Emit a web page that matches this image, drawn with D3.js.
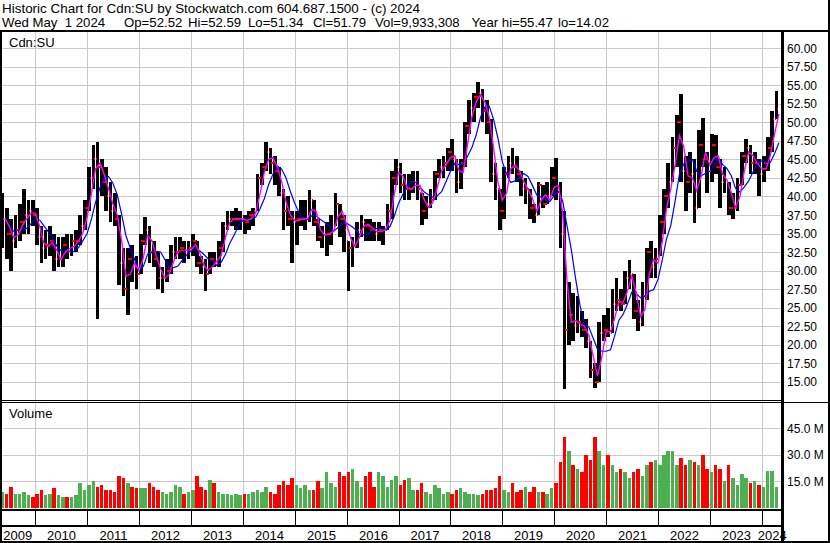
<!DOCTYPE html>
<html>
<head>
<meta charset="utf-8">
<script src="https://cdn.jsdelivr.net/npm/d3@7/dist/d3.min.js"></script>
<style>
  body { margin: 0; background: #fff; }
  svg { display: block; font-family: Arial, "Liberation Sans", sans-serif; }
  .hdr { white-space: pre; }
</style>
</head>
<body>
<div id="chart"></div>
<script>
'use strict';

// monthly bars, first one is May 2009, last one is Apr 2024 (prices in C$)
var firstYear = 2009, firstMonth = 4;

var hi = [
  40.5, 38.5, 37, 37.5, 39, 41, 39.5, 39.5,
  38.5, 36, 35.5, 36, 35, 34.5, 34.5, 35, 35, 35.5, 37.5, 39.5,
  44, 47, 47.3, 45, 44, 42, 40.5, 37.5, 33, 33, 33.5, 32,
  35, 37.2, 36, 34, 32.5, 30.5, 31.5, 33.5, 34.5, 34.5, 34, 34,
  35, 34, 32, 31.5, 32.5, 32.5, 34, 36.5, 38, 38, 38.5, 38,
  37.5, 38, 38.5, 43, 44.5, 47.3, 46.5, 45.5, 44, 41, 40, 38,
  38, 39.5, 39.5, 40.9, 39.5, 37, 36, 36.5, 37.5, 40.5, 39, 37.5,
  34, 34.5, 36.5, 37.5, 37, 37, 36.5, 36.5, 36, 39, 43.5, 45,
  44.5, 43, 43, 43.5, 43.5, 40.5, 40, 41, 43.5, 45, 45.5, 46.5,
  47.7, 45, 45, 50, 53, 54, 55.4, 54.5, 53, 50.5, 44.5, 41,
  44, 45.5, 46.6, 45.5, 43.5, 42.5, 41, 39, 42, 41.5, 42, 44,
  45.2, 42, 38, 28.5, 27, 26.5, 24.5, 23.5, 20.5, 17.5, 23, 24,
  25, 27.5, 29, 27.5, 30, 31.4, 29.5, 26, 28.5, 33, 34, 33,
  37.5, 41, 44.5, 48, 51, 53.8, 45.5, 46, 45, 49, 50.6, 46,
  48.5, 48.3, 45, 44, 42, 40.5, 42.5, 46, 47.7, 47, 46, 45,
  45.5, 48, 51.5, 54.2
];

var lo = [
  33, 31.5, 30, 33, 34, 35, 35, 36,
  33.5, 31, 31.5, 32, 30, 30.5, 30.5, 31.5, 32, 32.5, 33.5, 35.5,
  38, 41, 23.5, 40, 38, 36.5, 36, 28, 26.5, 24, 28.5, 27.5,
  29.5, 33.5, 31, 30.5, 27.5, 27, 28.5, 29.5, 31.5, 31.5, 31, 31.5,
  32, 30.5, 29.5, 27.3, 29.5, 30.5, 30.5, 32.5, 35.5, 36, 35.5, 35.5,
  35, 35.5, 36, 38, 41.5, 43.5, 43, 41.5, 40, 35.5, 36, 31,
  33.5, 36, 35.5, 36.5, 36, 34, 33, 32, 33.5, 36, 34.5, 32.5,
  27.3, 30.5, 33, 34.5, 34, 34, 34, 34, 33.5, 35.5, 37, 41.5,
  40.5, 39.5, 39.5, 40.5, 39.5, 36.1, 37, 38.5, 39.5, 42.5, 42.5, 43.5,
  43.5, 40.5, 41, 44, 48.5, 50, 52, 50, 48.5, 42, 39.5, 35.5,
  37, 42.5, 43, 42, 40, 39, 37, 36.4, 37.5, 38.5, 39, 40,
  39.5, 33, 14, 20, 20.5, 21.5, 21, 19.5, 15.5, 14.2, 15, 20.5,
  21, 21.5, 24.5, 24.5, 25.5, 27.5, 23.5, 21.9, 22.5, 26, 29, 29,
  32, 35, 38.5, 42, 44, 42, 38, 40.5, 36.4, 38.5, 44, 40.5,
  42, 43, 38.5, 40.5, 37.5, 37, 38, 41.5, 44.5, 43, 43, 40,
  42, 43.5, 46, 50.5
];

var cl = [
  37, 35, 34, 35.5, 36.5, 37.5, 38, 37.5,
  34.5, 33, 33.5, 34, 31.5, 31.5, 33.5, 32.5, 34, 34, 36, 38.5,
  42.5, 45, 44, 42, 40, 38, 37, 31, 27.5, 31.5, 30.5, 29.5,
  34, 35.5, 32.5, 31.5, 29, 29, 30, 32.5, 32.5, 33, 32.5, 33,
  34, 31, 30.5, 29.5, 31.5, 31, 33, 36, 37, 37, 37, 37,
  36.5, 37.5, 38, 42.5, 44, 46, 44.5, 43.5, 40.5, 38, 37, 36.5,
  37, 37, 37, 39.5, 36.5, 34.5, 35, 35, 35.5, 39, 37, 35.5,
  33, 33.5, 35.5, 36.5, 36, 35.5, 35, 35.5, 35.5, 38, 42.5, 44,
  41.5, 41, 41, 42, 41, 38, 39, 39.5, 43, 44, 44.5, 46,
  45, 42, 44.5, 49.5, 52, 53.5, 54, 51.5, 50, 43, 41, 38,
  43, 44.5, 44, 43, 41, 41, 38.5, 37.5, 41.5, 39, 40, 42.5,
  40.5, 35, 22, 24, 22.5, 23, 22, 20.5, 16.5, 15, 21.5, 22,
  21.5, 25.5, 26, 25.5, 29, 29.5, 24.5, 23, 26.5, 32.5, 30.5, 31.5,
  36.5, 40, 42, 46.5, 50, 43.5, 42, 43, 38.5, 47, 45, 43.5,
  47, 44, 42, 42.5, 38.5, 38.5, 41.5, 45.5, 46.5, 44.5, 44.5, 43,
  44.5, 46.5, 50.5, 51.79
];

var firstOpen = 36.5;

// weekly volume level for each month, millions of shares
var vol = [
  9, 8, 12, 8, 8, 9, 7, 6,
  8, 10, 7, 8, 11, 7, 6, 6, 6, 7, 14, 10,
  13, 15, 12, 13, 10, 10, 9, 18, 17, 14, 12, 11,
  11, 11, 14, 12, 10, 9, 8, 9, 13, 12, 8, 9,
  10, 18, 12, 10, 16, 14, 9, 8, 8, 7, 8, 7,
  8, 8, 9, 10, 9, 12, 9, 8, 13, 15, 13, 17,
  13, 11, 13, 10, 10, 15, 11, 20, 14, 12, 20, 18,
  20, 22, 15, 12, 18, 20, 12, 20, 18, 12, 16, 18,
  13, 16, 17, 10, 10, 14, 9, 8, 13, 11, 8, 9,
  8, 10, 11, 9, 8, 8, 7, 8, 10, 10, 11, 18,
  10, 9, 14, 9, 10, 12, 9, 12, 9, 9, 8, 11,
  14, 26, 40, 32, 24, 22, 20, 30, 27, 40, 32, 24,
  30, 24, 20, 22, 20, 17, 20, 22, 18, 24, 26, 27,
  24, 30, 32, 32, 24, 28, 24, 27, 26, 24, 30, 22,
  20, 24, 22, 15, 24, 17, 13, 19, 17, 14, 15, 13,
  12, 21, 21, 12
];

var priceTicks = [15, 17.5, 20, 22.5, 25, 27.5, 30, 32.5, 35, 37.5, 40, 42.5, 45, 47.5, 50, 52.5, 55, 57.5, 60];
var volumeTicks = [15, 30, 45];
var years = [2009, 2010, 2011, 2012, 2013, 2014, 2015, 2016, 2017, 2018, 2019, 2020, 2021, 2022, 2023, 2024];

var headerLine1 = 'Historic Chart for Cdn:SU by Stockwatch.com 604.687.1500 - (c) 2024';
var headerFields = ['Wed May  1 2024', 'Op=52.52', 'Hi=52.59', 'Lo=51.34', 'Cl=51.79', 'Vol=9,933,308', 'Year hi=55.47', 'lo=14.02'];
var headerFieldX = [2, 124, 188, 248, 313, 375, 471.5, 558];
var symbol = 'Cdn:SU';

var fastPeriod = 2;   // months
var slowPeriod = 5;

var width = 830, height = 543;
var plotRight = 782;
var priceTop = 31;
var volBottom = 509;
var gridColor = '#c8c8c8';
var upColor = '#4caf50', downColor = '#ff0000';

var data = hi.map(function(h, i) {
  return {
    date: new Date(firstYear, firstMonth + i, 1),
    end: new Date(firstYear, firstMonth + i + 1, 1),
    high: h,
    low: lo[i],
    close: cl[i],
    open: i === 0 ? firstOpen : cl[i - 1],
    volume: vol[i]
  };
});

var movingAverage = function(n) {
  return data.map(function(d, i) {
    return { date: d.end, value: d3.mean(data.slice(Math.max(0, i - n + 1), i + 1), function(e) { return e.close; }) };
  });
};

var x = d3.scaleTime().domain([new Date(2010, 0, 1), new Date(2024, 0, 1)]).range([35.3, 761.7]);
var y = d3.scaleLinear().domain([15, 60]).range([381.6, 48.4]);
var yv = d3.scaleLinear().domain([0, 45]).range([507.8, 428.3]);

var svg = d3.select('#chart').append('svg')
  .attr('width', width)
  .attr('height', height);

svg.append('rect').attr('width', width).attr('height', height).attr('fill', '#fff');

// header
svg.append('text').attr('class', 'hdr').attr('x', 2).attr('y', 13.3)
  .attr('textLength', 418).attr('lengthAdjust', 'spacingAndGlyphs')
  .style('font-size', '13.4px').text(headerLine1);

svg.selectAll('.hfield').data(headerFields).enter().append('text')
  .attr('class', 'hdr')
  .attr('x', function(d, i) { return headerFieldX[i]; })
  .attr('y', 27)
  .style('font-size', '13.2px')
  .text(function(d) { return d; });

var grid = svg.append('g').attr('shape-rendering', 'crispEdges');

// horizontal grid
grid.selectAll('.pgrid').data(priceTicks).enter().append('line')
  .attr('x1', 0).attr('x2', plotRight)
  .attr('y1', function(d) { return Math.round(y(d)) + 0.5; })
  .attr('y2', function(d) { return Math.round(y(d)) + 0.5; })
  .attr('stroke', gridColor);

grid.selectAll('.vgrid').data(volumeTicks).enter().append('line')
  .attr('x1', 0).attr('x2', plotRight)
  .attr('y1', function(d) { return Math.round(yv(d)) + 0.5; })
  .attr('y2', function(d) { return Math.round(yv(d)) + 0.5; })
  .attr('stroke', gridColor);

// year grid
var yearLines = years.slice(1).map(function(yr) { return Math.round(x(new Date(yr, 0, 1))) + 0.5; });

grid.selectAll('.ygrid').data(yearLines).enter().append('line')
  .attr('x1', function(d) { return d; }).attr('x2', function(d) { return d; })
  .attr('y1', priceTop).attr('y2', volBottom)
  .attr('stroke', gridColor);

// price bars, one per month
var bars = svg.append('g').attr('shape-rendering', 'crispEdges');

bars.selectAll('.bar').data(data).enter().append('rect')
  .attr('x', function(d) { return x(d.date); })
  .attr('width', function(d) { return x(d.end) - x(d.date) - 0.6; })
  .attr('y', function(d) { return y(d.high); })
  .attr('height', function(d) { return Math.max(1, y(d.low) - y(d.high)); })
  .attr('fill', '#000');

bars.selectAll('.cls').data(data).enter().append('rect')
  .attr('x', function(d) { return x(d.end) - 2; })
  .attr('width', 1.6)
  .attr('y', function(d) { return y(d.close) - 1; })
  .attr('height', 2)
  .attr('fill', '#ff0000');

bars.selectAll('.opn').data(data).enter().append('rect')
  .attr('x', function(d) { return x(d.date); })
  .attr('width', 1.4)
  .attr('y', function(d) { return y(Math.min(d.high, Math.max(d.low, d.open))) - 1; })
  .attr('height', 2)
  .attr('fill', '#ff0000');

// moving averages
var line = d3.line()
  .x(function(d) { return x(d.date); })
  .y(function(d) { return y(d.value); });

svg.append('path').datum(movingAverage(slowPeriod))
  .attr('d', line).attr('fill', 'none').attr('stroke', '#0000ff').attr('stroke-width', 1.2);

svg.append('path').datum(movingAverage(fastPeriod))
  .attr('d', line).attr('fill', 'none').attr('stroke', '#ff00ff').attr('stroke-width', 1.4);

// volume bars
svg.append('g').attr('shape-rendering', 'crispEdges')
  .selectAll('rect').data(data).enter().append('rect')
  .attr('x', function(d) { return x(d.date); })
  .attr('width', function(d) { return x(d.end) - x(d.date) - 0.8; })
  .attr('y', function(d) { return yv(d.volume); })
  .attr('height', function(d) { return yv(0) - yv(d.volume); })
  .attr('fill', function(d) { return d.close >= d.open ? upColor : downColor; });

// frame lines
var frame = svg.append('g').attr('shape-rendering', 'crispEdges').attr('stroke', '#000');

frame.append('line').attr('x1', 0).attr('x2', width).attr('y1', 30.5).attr('y2', 30.5).attr('stroke-width', 2);
frame.append('line').attr('x1', 0).attr('x2', plotRight).attr('y1', 400.5).attr('y2', 400.5);
frame.append('line').attr('x1', 0).attr('x2', width).attr('y1', 402.5).attr('y2', 402.5);
frame.append('line').attr('x1', 0).attr('x2', plotRight).attr('y1', 510).attr('y2', 510).attr('stroke-width', 2);
frame.append('line').attr('x1', 0).attr('x2', plotRight).attr('y1', 526).attr('y2', 526).attr('stroke-width', 2);
frame.append('line').attr('x1', 0).attr('x2', width).attr('y1', 542).attr('y2', 542).attr('stroke-width', 2);
frame.append('line').attr('x1', plotRight).attr('x2', plotRight).attr('y1', 30).attr('y2', height).attr('stroke-width', 3);
frame.append('line').attr('x1', 1).attr('x2', 1).attr('y1', 30).attr('y2', height).attr('stroke-width', 2);
frame.append('line').attr('x1', 829).attr('x2', 829).attr('y1', 0).attr('y2', height).attr('stroke-width', 2);

frame.selectAll('.div').data(yearLines).enter().append('line')
  .attr('x1', function(d) { return d; }).attr('x2', function(d) { return d; })
  .attr('y1', 511).attr('y2', 525);

// labels
svg.append('text').attr('x', 9).attr('y', 46.5).style('font-size', '13px').text(symbol);
svg.append('text').attr('x', 9).attr('y', 417.5).style('font-size', '13px').text('Volume');

svg.selectAll('.plab').data(priceTicks).enter().append('text')
  .attr('x', 787).attr('y', function(d) { return y(d) + 4.5; })
  .style('font-size', '12px')
  .text(function(d) { return d.toFixed(2); });

svg.selectAll('.vlab').data(volumeTicks).enter().append('text')
  .attr('x', 787).attr('y', function(d) { return yv(d) + 4.5; })
  .style('font-size', '12px')
  .text(function(d) { return d.toFixed(1) + ' M'; });

var yearBounds = [0].concat(yearLines, [plotRight]);
svg.selectAll('.ylab').data(years).enter().append('text')
  .attr('x', function(d, i) { return (yearBounds[i] + yearBounds[i + 1]) / 2; })
  .attr('y', 539.5)
  .attr('text-anchor', 'middle')
  .style('font-size', '13px')
  .text(function(d) { return d; });
</script>
</body>
</html>
